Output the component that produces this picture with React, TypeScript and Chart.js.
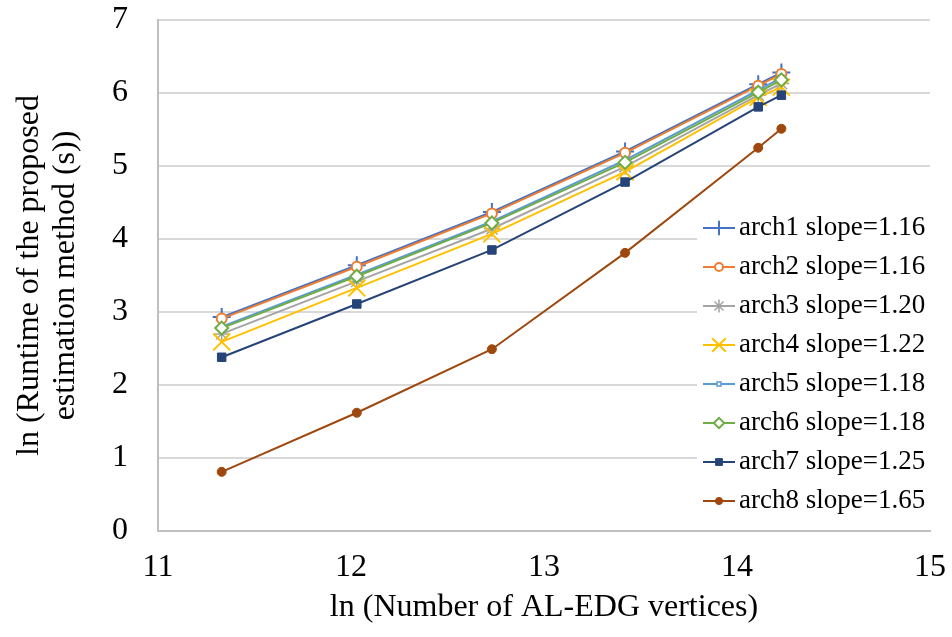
import React, { useEffect, useRef } from "react";
import { Chart, registerables } from "chart.js";
import { drawPoint } from "chart.js/helpers";

Chart.register(...registerables);

const xValues = [11.33, 12.03, 12.73, 13.42, 14.11, 14.23];
const arch1 = [2.93, 3.64, 4.37, 5.2, 6.12, 6.28];
const arch2 = [2.91, 3.62, 4.35, 5.18, 6.1, 6.26];
const arch3 = [2.7, 3.42, 4.14, 4.99, 5.97, 6.13];
const arch4 = [2.59, 3.33, 4.07, 4.92, 5.94, 6.08];
const arch5 = [2.8, 3.51, 4.24, 5.08, 6.04, 6.21];
const arch6 = [2.78, 3.49, 4.22, 5.05, 6.01, 6.18];
const arch7 = [2.38, 3.11, 3.85, 4.78, 5.81, 5.97];
const arch8 = [0.81, 1.62, 2.49, 3.81, 5.25, 5.51];
const seriesLabels = [
  "arch1 slope=1.16",
  "arch2 slope=1.16",
  "arch3 slope=1.20",
  "arch4 slope=1.22",
  "arch5 slope=1.18",
  "arch6 slope=1.18",
  "arch7 slope=1.25",
  "arch8 slope=1.65",
];
const xTitle = "ln (Number of AL-EDG vertices)";
const yTitle = ["ln (Runtime of the proposed", "estimation method (s))"];

const FONT = '"Liberation Serif", "Times New Roman", serif';

const styles = [
  { color: "#4472C4", pointStyle: "cross", radius: 9, bg: "#4472C4", bw: 2 },
  { color: "#ED7D31", pointStyle: "circle", radius: 5, bg: "#ffffff", bw: 2 },
  { color: "#A5A5A5", pointStyle: "star", radius: 8, bg: "#A5A5A5", bw: 1.5 },
  { color: "#FFC000", pointStyle: "crossRot", radius: 12, bg: "#FFC000", bw: 2 },
  { color: "#5B9BD5", pointStyle: "rect", radius: 3.5, bg: "#ffffff", bw: 1.5 },
  { color: "#70AD47", pointStyle: "rectRot", radius: 6.5, bg: "#ffffff", bw: 2 },
  { color: "#264478", pointStyle: "rect", radius: 6, bg: "#264478", bw: 1 },
  { color: "#9E480E", pointStyle: "circle", radius: 4.5, bg: "#9E480E", bw: 1 },
];

const legendPlugin = {
  id: "customLegend",
  afterDraw(chart: any) {
    const ctx = chart.ctx;
    ctx.save();
    ctx.fillStyle = "#ffffff";
    ctx.fillRect(697, 207, 255, 316);
    chart.data.datasets.forEach((ds: any, i: number) => {
      const y = 228 + i * 39;
      ctx.strokeStyle = ds.borderColor;
      ctx.lineWidth = 2;
      ctx.beginPath();
      ctx.moveTo(703, y);
      ctx.lineTo(735, y);
      ctx.stroke();
      ctx.fillStyle = ds.pointBackgroundColor;
      ctx.strokeStyle = ds.pointBorderColor;
      ctx.lineWidth = ds.pointBorderWidth;
      drawPoint(
        ctx,
        {
          pointStyle: ds.pointStyle,
          radius: ds.pointRadius * 0.8,
          borderWidth: ds.pointBorderWidth,
          rotation: 0,
        } as any,
        719,
        y
      );
      ctx.fillStyle = "#000000";
      ctx.font = `27px ${FONT}`;
      ctx.textBaseline = "middle";
      ctx.textAlign = "left";
      ctx.fillText(ds.label, 739, y);
    });
    ctx.restore();
  },
};

export default function App() {
  const ref = useRef<HTMLCanvasElement | null>(null);
  useEffect(() => {
    if (!ref.current) return;
    const all = [arch1, arch2, arch3, arch4, arch5, arch6, arch7, arch8];
    const datasets = all.map((arr, i) => {
      const s = styles[i];
      return {
        label: seriesLabels[i],
        data: xValues.map((x, j) => ({ x, y: arr[j] })),
        borderColor: s.color,
        backgroundColor: s.bg,
        borderWidth: 2,
        pointStyle: s.pointStyle,
        pointRadius: s.radius,
        pointHoverRadius: s.radius,
        pointBorderColor: s.color,
        pointBackgroundColor: s.bg,
        pointBorderWidth: s.bw,
        tension: 0,
        order: 8 - i,
      };
    });
    const chart = new Chart(ref.current, {
      type: "line",
      data: { datasets: datasets as any },
      plugins: [legendPlugin],
      options: {
        animation: false,
        responsive: false,
        devicePixelRatio: 1,
        layout: { padding: { top: 20, right: 22, left: 0, bottom: 0 } },
        plugins: { legend: { display: false }, tooltip: { enabled: false } },
        scales: {
          x: {
            type: "linear",
            min: 11,
            max: 15,
            ticks: {
              stepSize: 1,
              font: { family: FONT, size: 32 },
              color: "#000000",
              padding: 17,
              maxRotation: 0,
            },
            grid: { display: false, drawTicks: false },
            border: { display: true, color: "#BFBFBF", width: 2 },
            title: {
              display: true,
              text: xTitle,
              font: { family: FONT, size: 32, lineHeight: 1.2 },
              color: "#000000",
              padding: { top: 0, bottom: 10 },
            },
            afterFit: (scale: any) => {
              scale.height = 106;
              scale.paddingLeft = 0;
              scale.paddingRight = 0;
            },
          },
          y: {
            type: "linear",
            min: 0,
            max: 7,
            ticks: {
              stepSize: 1,
              font: { family: FONT, size: 32 },
              color: "#000000",
              padding: 30,
            },
            grid: { color: "#D9D9D9", lineWidth: 2, drawTicks: false },
            border: { display: true, color: "#BFBFBF", width: 2 },
            title: {
              display: true,
              text: yTitle,
              font: { family: FONT, size: 32, lineHeight: 1.125 },
              color: "#000000",
              padding: { top: 12, bottom: 0 },
            },
            afterFit: (scale: any) => {
              scale.width = 158;
              scale.paddingTop = 0;
              scale.paddingBottom = 0;
            },
          },
        },
      } as any,
    });
    return () => chart.destroy();
  }, []);
  return (
    <div style={{ position: "absolute", left: 0, top: 0, width: 952, height: 637, background: "#fff" }}>
      <canvas ref={ref} width={952} height={637} style={{ width: 952, height: 637 }} />
    </div>
  );
}
